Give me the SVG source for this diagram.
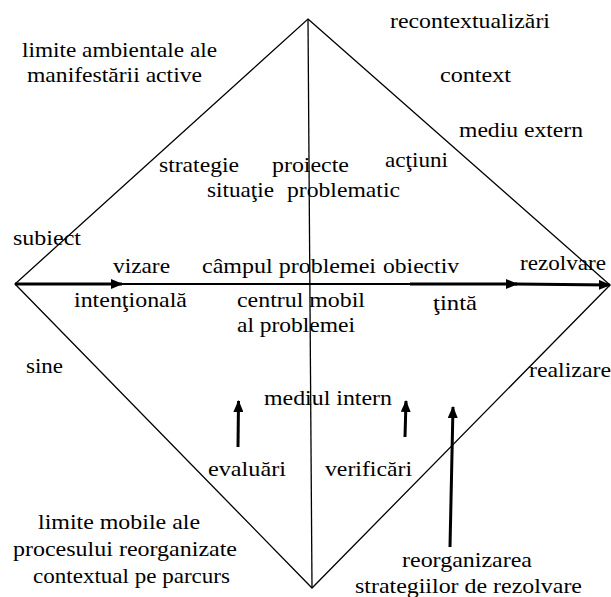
<svg xmlns="http://www.w3.org/2000/svg" width="611" height="597" viewBox="0 0 611 597">
<defs>
  <marker id="ah" viewBox="0 0 12 10" refX="11" refY="5" markerWidth="12" markerHeight="10" markerUnits="userSpaceOnUse" orient="auto">
    <path d="M0,0 L12,5 L0,10 Z" fill="#000"/>
  </marker>
</defs>
<rect width="611" height="597" fill="#fff"/>
<g id="connectors" fill="none" stroke="#000">
  <polygon stroke-width="1.3" points="308,19 610,285 312,588 15,284"/>
  <line stroke-width="1.3" x1="308" y1="19" x2="312" y2="588"/>
  <line stroke-width="2" x1="112" y1="284" x2="410" y2="284"/>
  <line stroke-width="3" x1="15" y1="284" x2="122" y2="284" marker-end="url(#ah)"/>
  <line stroke-width="3" x1="410" y1="284" x2="517" y2="284" marker-end="url(#ah)"/>
  <line stroke-width="3" x1="515" y1="284" x2="610" y2="285" marker-end="url(#ah)"/>
  <line stroke-width="3" x1="238" y1="447" x2="238.5" y2="401" marker-end="url(#ah)"/>
  <line stroke-width="3" x1="405" y1="437" x2="406" y2="401" marker-end="url(#ah)"/>
  <line stroke-width="3" x1="450" y1="547" x2="453" y2="407" marker-end="url(#ah)"/>
</g>
<g font-family="Times New Roman" font-size="22">
<g id="n-limite-ambientale">
  <text x="22" y="57" textLength="195" lengthAdjust="spacingAndGlyphs">limite ambientale ale</text>
  <text x="27" y="82" textLength="175" lengthAdjust="spacingAndGlyphs">manifestării active</text>
</g>
<g id="n-recontextualizari"><text x="390" y="28" textLength="160" lengthAdjust="spacingAndGlyphs">recontextualizări</text></g>
<g id="n-context"><text x="440" y="82" textLength="71" lengthAdjust="spacingAndGlyphs">context</text></g>
<g id="n-mediu-extern"><text x="459" y="137" textLength="124" lengthAdjust="spacingAndGlyphs">mediu extern</text></g>
<g id="n-actiuni"><text x="385" y="167" textLength="63" lengthAdjust="spacingAndGlyphs">acţiuni</text></g>
<g id="n-strategie"><text x="159" y="172" textLength="80" lengthAdjust="spacingAndGlyphs">strategie</text></g>
<g id="n-proiecte"><text x="272" y="172" textLength="77" lengthAdjust="spacingAndGlyphs">proiecte</text></g>
<g id="n-situatie"><text x="207" y="197" textLength="67" lengthAdjust="spacingAndGlyphs">situaţie</text></g>
<g id="n-problematic"><text x="287" y="197" textLength="113" lengthAdjust="spacingAndGlyphs">problematic</text></g>
<g id="n-subiect"><text x="13" y="245" textLength="68" lengthAdjust="spacingAndGlyphs">subiect</text></g>
<g id="n-vizare"><text x="113" y="273" textLength="57" lengthAdjust="spacingAndGlyphs">vizare</text></g>
<g id="n-campul"><text x="202" y="273" textLength="174" lengthAdjust="spacingAndGlyphs">câmpul problemei</text></g>
<g id="n-obiectiv"><text x="383" y="273" textLength="76" lengthAdjust="spacingAndGlyphs">obiectiv</text></g>
<g id="n-rezolvare"><text x="520" y="270" textLength="86" lengthAdjust="spacingAndGlyphs">rezolvare</text></g>
<g id="n-intentionala"><text x="74" y="307" textLength="113" lengthAdjust="spacingAndGlyphs">intenţională</text></g>
<g id="n-centrul">
  <text x="237" y="307" textLength="128" lengthAdjust="spacingAndGlyphs">centrul mobil</text>
  <text x="237" y="332" textLength="118" lengthAdjust="spacingAndGlyphs">al problemei</text>
</g>
<g id="n-tinta"><text x="433" y="310" textLength="44" lengthAdjust="spacingAndGlyphs">ţintă</text></g>
<g id="n-sine"><text x="26" y="373" textLength="37" lengthAdjust="spacingAndGlyphs">sine</text></g>
<g id="n-realizare"><text x="529" y="377" textLength="82" lengthAdjust="spacingAndGlyphs">realizare</text></g>
<g id="n-mediul-intern"><text x="264" y="405" textLength="128" lengthAdjust="spacingAndGlyphs">mediul intern</text></g>
<g id="n-evaluari"><text x="208" y="476" textLength="78" lengthAdjust="spacingAndGlyphs">evaluări</text></g>
<g id="n-verificari"><text x="325" y="476" textLength="87" lengthAdjust="spacingAndGlyphs">verificări</text></g>
<g id="n-limite-mobile">
  <text x="38" y="529" textLength="162" lengthAdjust="spacingAndGlyphs">limite mobile ale</text>
  <text x="13" y="556" textLength="224" lengthAdjust="spacingAndGlyphs">procesului reorganizate</text>
  <text x="33" y="583" textLength="197" lengthAdjust="spacingAndGlyphs">contextual pe parcurs</text>
</g>
<g id="n-reorganizarea">
  <text x="402" y="567" textLength="130" lengthAdjust="spacingAndGlyphs">reorganizarea</text>
  <text x="355" y="593" textLength="227" lengthAdjust="spacingAndGlyphs">strategiilor de rezolvare</text>
</g>
</g>
</svg>
